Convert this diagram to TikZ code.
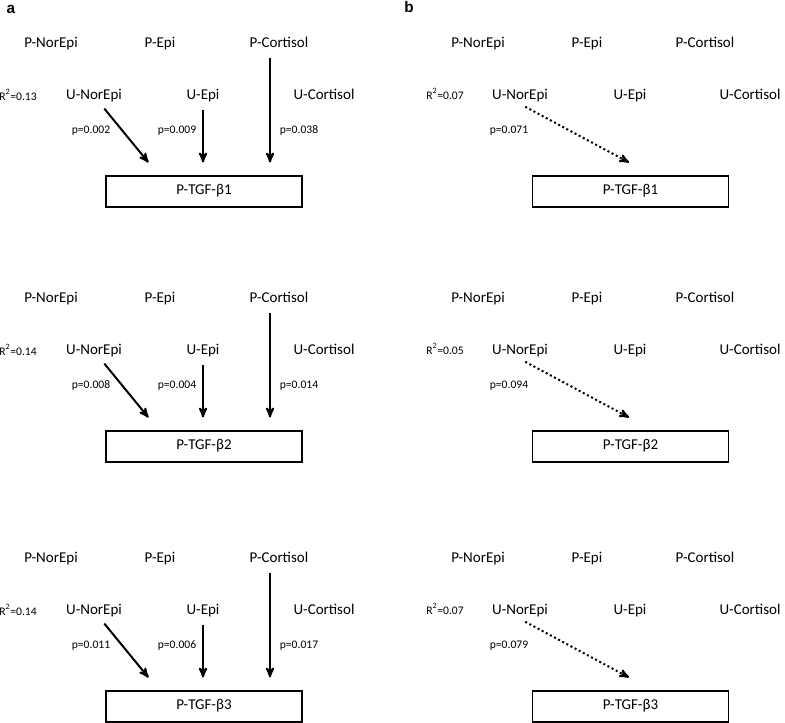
\documentclass[tikz,border=0pt]{standalone}
\usepackage{fontspec}
\setmainfont{Carlito}
\newfontfamily\panelfont{Liberation Sans}
\usetikzlibrary{arrows,positioning}

\begin{document}
\begin{tikzpicture}[x=0.75pt,y=-0.75pt,>=stealth',
                    every node/.style={font=\fontsize{11.25}{13}\selectfont,inner sep=1pt,
                                       text height=0.7em,text depth=0.25em},
                    small/.style={font=\fontsize{8.7}{10}\selectfont},
                    outcome/.style={draw,line width=0.8pt,minimum width=147pt,minimum height=23.25pt},
                    sig/.style={->,line width=1.5pt,shorten <=4.5pt},
                    trend/.style={->,line width=1.5pt,dotted,shorten <=4.5pt}]
  \useasboundingbox (0,0) rectangle (785,722);
  \tikzstyle{panel}=[font=\panelfont\bfseries\fontsize{11.5}{13}\selectfont]

  \node[panel] (la) at (11,10) {a};
  \node[panel] (lb) at (409,9) {b};

  \foreach \n/\dy/\ra/\rb/\pa/\pb/\pc/\pd in {1/0/0.13/0.07/0.002/0.009/0.038/0.071,
                                             2/255/0.14/0.05/0.008/0.004/0.014/0.094,
                                             3/515/0.14/0.07/0.011/0.006/0.017/0.079}{
  \begin{scope}[shift={(0,\dy)}]
    % panel a
    \node (apne\n) at (51,44)  {P-NorEpi};
    \node (apep\n) at (160,44) {P-Epi};
    \node (apco\n) at (279,44) {P-Cortisol};
    \node[small] (ar\n) at (18,97) {R\textsuperscript{2}=\ra};
    \node (aune\n) at (94,96)  {U-NorEpi};
    \node (auep\n) at (203,96) {U-Epi};
    \node (auco\n) at (324,96) {U-Cortisol};
    \node[outcome] (atgf\n) at (204,191.5) {P-TGF-β\n};
    \coordinate (ae1\n) at ([shift={(43,-13)}]atgf\n.north west);
    \coordinate (ae2\n) at ([shift={(-1,-13)}]atgf\n.north);
    \coordinate (ae3\n) at ([shift={(66,-13)}]atgf\n.north);
    \draw[sig] (aune\n) -- (ae1\n);
    \draw[sig] (auep\n) -- (ae2\n);
    \draw[sig] (apco\n.south -| ae3\n) -- (ae3\n);
    \node[small] (apa\n) at (91,130)  {p=\pa};
    \node[small] (apb\n) at (177,130) {p=\pb};
    \node[small] (apc\n) at (299,130) {p=\pc};

    % panel b
    \node (bpne\n) at (478,44) {P-NorEpi};
    \node (bpep\n) at (587,44) {P-Epi};
    \node (bpco\n) at (705,44) {P-Cortisol};
    \node[small] (br\n) at (445,96) {R\textsuperscript{2}=\rb};
    \node (bune\n) at (520,96) {U-NorEpi};
    \node (buep\n) at (630,96) {U-Epi};
    \node (buco\n) at (750,96) {U-Cortisol};
    \node[outcome] (btgf\n) at (630.5,191.5) {P-TGF-β\n};
    \coordinate (be\n) at ([shift={(-1.5,-13)}]btgf\n.north);
    \draw[trend] (bune\n.south) -- (be\n);
    \node[small] (bpd\n) at (509,130) {p=\pd};
  \end{scope}
  }
\end{tikzpicture}
\end{document}
